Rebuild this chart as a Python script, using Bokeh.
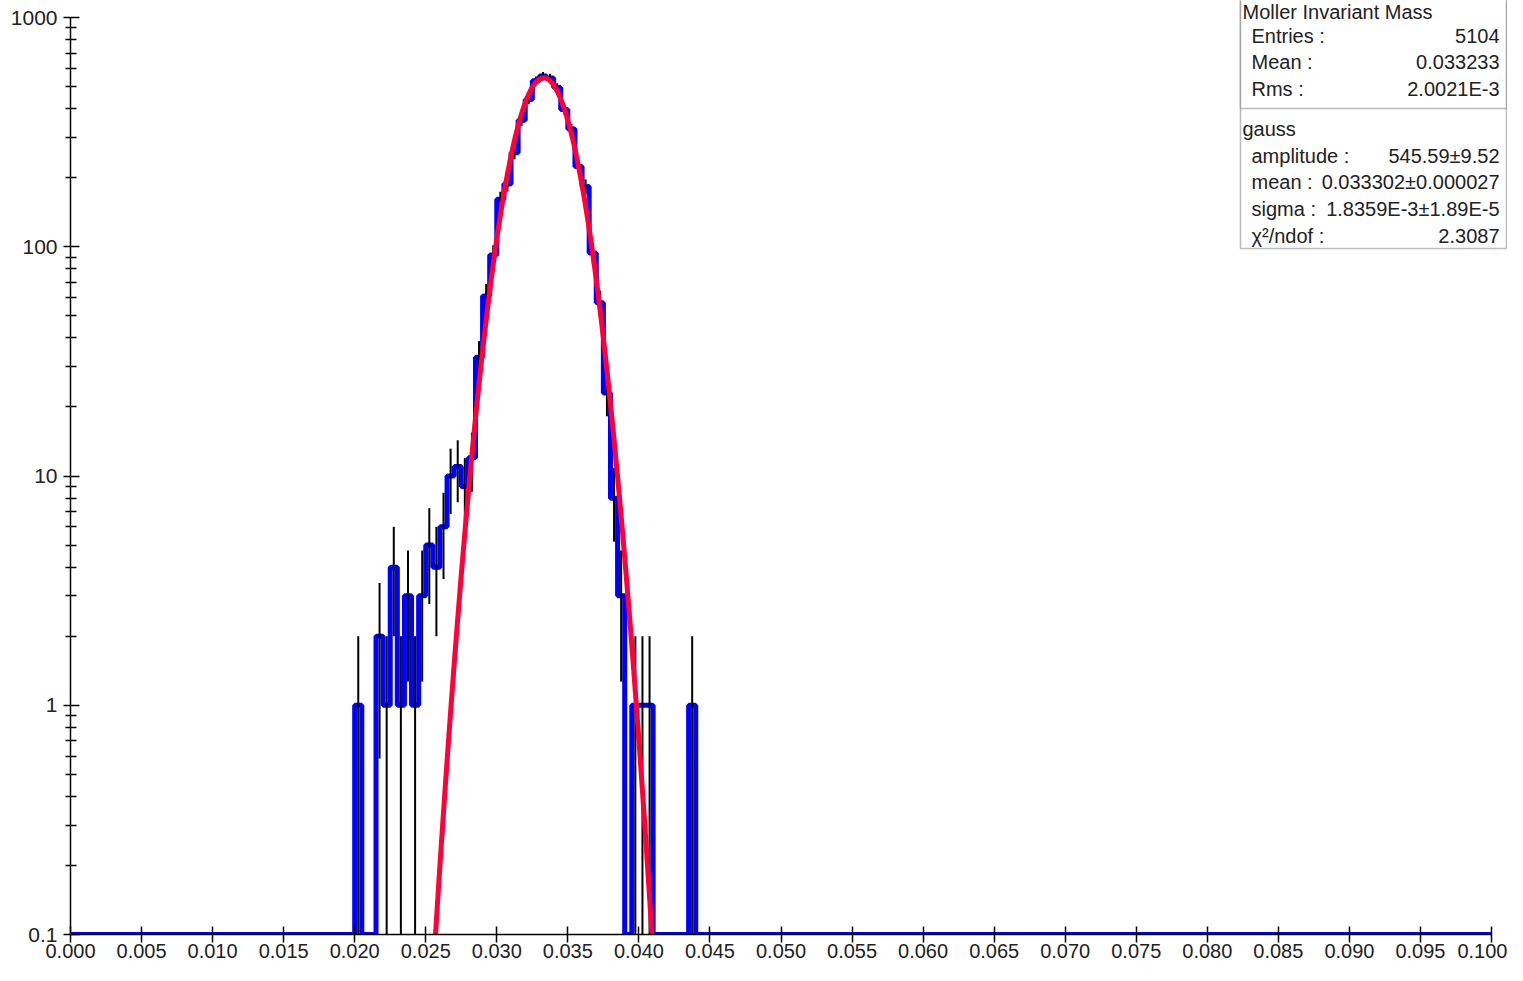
import numpy as np
from bokeh.plotting import figure
from bokeh.models import (Range1d, FixedTicker, PrintfTickFormatter, CustomJSTickFormatter,
                          Label, BoxAnnotation)
from bokeh.embed import file_html
from bokeh.resources import INLINE

# ---------------- data ----------------
hist_low = 0.0
hist_high = 0.1
bin_width = 0.0005
first_filled_bin = 40          # bin starting at x = 0.0200
counts = [1, 0, 0, 2, 1, 4, 1, 3, 1, 3, 5, 4, 6, 10, 11, 9, 12,
          33, 61, 92, 161, 188, 257, 356, 439, 530, 555, 545, 495, 397,
          326, 224, 183, 94, 57, 23, 8, 3,
          0, 1, 1, 1, 0, 0, 0, 0, 0, 1]

fit_amplitude = 545.59
fit_mean = 0.033302
fit_sigma = 1.8359e-3

x_ticks = [0.000, 0.005, 0.010, 0.015, 0.020, 0.025, 0.030, 0.035, 0.040, 0.045, 0.050,
           0.055, 0.060, 0.065, 0.070, 0.075, 0.080, 0.085, 0.090, 0.095, 0.100]
y_ticks = [0.1, 1, 10, 100, 1000]
y_minor_mantissas = [2, 3, 4, 5, 6, 7, 8, 9]

stats_title = "Moller Invariant Mass"
stats_names = ["Entries :", "Mean :", "Rms :"]
stats_values = ["5104", "0.033233", "2.0021E-3"]
fit_title = "gauss"
fit_names = ["amplitude :", "mean :", "sigma :", "χ²/ndof :"]
fit_values = ["545.59±9.52", "0.033302±0.000027", "1.8359E-3±1.89E-5", "2.3087"]

# ---------------- layout ----------------
W, H = 1507, 965
BORDER_L, BORDER_B = 70, 31
FRAME_W = W - BORDER_L
FRAME_H = H - BORDER_B
PX_PER_UNIT_X = 14210.0
TOP_PAD = 17
Y_START = y_ticks[0]
PX_PER_DECADE = (FRAME_H - TOP_PAD) / 4.0
x_end = FRAME_W / PX_PER_UNIT_X
y_end = Y_START * 10 ** (FRAME_H / PX_PER_DECADE)

FONT = "Liberation Sans"
FS = "20px"
AXFS = "20px"
TXT = "#222222"

# ---------------- build histogram arrays ----------------
n_bins = int(round((hist_high - hist_low) / bin_width))
full = [0] * n_bins
for i, c in enumerate(counts):
    full[first_filled_bin + i] = c
edges = [hist_low + i * bin_width for i in range(n_bins + 1)]
plot_vals = [c if c > 0 else Y_START for c in full]
step_y = plot_vals + [plot_vals[-1]]

centers = [hist_low + (i + 0.5) * bin_width for i in range(n_bins) if full[i] > 0]
vals = [full[i] for i in range(n_bins) if full[i] > 0]
err_lo = [v - np.sqrt(v) if v - np.sqrt(v) > Y_START else Y_START for v in vals]
err_hi = [v + np.sqrt(v) for v in vals]

xf = np.linspace(fit_mean - 4.6 * fit_sigma, fit_mean + 4.6 * fit_sigma, 600)
yf = fit_amplitude * np.exp(-0.5 * ((xf - fit_mean) / fit_sigma) ** 2)

# ---------------- figure ----------------
p = figure(width=W, height=H, x_range=Range1d(0, x_end), y_range=Range1d(Y_START, y_end),
           y_axis_type="log", output_backend="svg", toolbar_location=None,
           min_border_left=BORDER_L, min_border_right=0, min_border_top=0,
           min_border_bottom=BORDER_B)
p.outline_line_color = None
p.grid.visible = False
p.background_fill_color = "white"
p.border_fill_color = "white"

p.step(x=edges, y=step_y, mode="after", line_color="#0000ff", line_width=5)
p.segment(x0=centers, y0=err_lo, x1=centers, y1=err_hi, line_color="black", line_width=2)
p.line(xf, yf, line_color="#ff0038", line_width=5)

# axes
for ax in (p.xaxis[0], p.yaxis[0]):
    ax.axis_line_color = "black"
    ax.axis_line_width = 1.5
    ax.major_tick_line_color = "black"
    ax.major_tick_line_width = 1.5
    ax.minor_tick_line_color = "black"
    ax.minor_tick_line_width = 1.5
    ax.major_label_text_font = FONT
    ax.major_label_text_font_size = AXFS
    ax.major_label_text_color = TXT

xa = p.xaxis[0]
xa.bounds = (hist_low, hist_high)
xa.ticker = FixedTicker(ticks=x_ticks)
xa.formatter = PrintfTickFormatter(format="%.3f")
xa.major_tick_in = 8
xa.major_tick_out = 8
xa.minor_tick_line_color = None
xa.major_label_standoff = 1

ya = p.yaxis[0]
ya.bounds = (y_ticks[0], y_ticks[-1])
ya.ticker = FixedTicker(ticks=y_ticks,
                        minor_ticks=[m * t for t in y_ticks[:-1] for m in y_minor_mantissas])
ya.formatter = CustomJSTickFormatter(code="return tick >= 1 ? tick.toFixed(0) : tick.toFixed(1);")
ya.major_label_text_font_size = "21px"
ya.major_tick_in = 9
ya.major_tick_out = 7
ya.minor_tick_in = 6
ya.minor_tick_out = 5
ya.major_label_standoff = 6

# ---------------- statistics box ----------------
def fy(py):
    return FRAME_H - py

def fx(px):
    return px - BORDER_L

box_left, box_right = fx(1240), fx(1506)
p.add_layout(BoxAnnotation(left=box_left, right=box_right, top=fy(-20), bottom=fy(248),
                           left_units="screen", right_units="screen",
                           top_units="screen", bottom_units="screen",
                           fill_color="white", fill_alpha=1.0,
                           line_color="#222222", line_width=1.6))
p.add_layout(BoxAnnotation(left=box_left, right=box_right, top=fy(-20), bottom=fy(108),
                           left_units="screen", right_units="screen",
                           top_units="screen", bottom_units="screen",
                           fill_color="white", fill_alpha=1.0,
                           line_color="#222222", line_width=1.6))

def add_text(txt, px, py, align):
    p.add_layout(Label(x=fx(px), y=fy(py), x_units="screen", y_units="screen",
                       text=txt, text_align=align, text_baseline="middle",
                       text_font=FONT, text_font_size=FS, text_color=TXT))

VAL_X = 1499
add_text(stats_title, 1242, 11, "left")
row_y = [35, 61, 88]
for name, val, yy in zip(stats_names, stats_values, row_y):
    add_text(name, 1251, yy, "left")
    add_text(val, VAL_X, yy, "right")
add_text(fit_title, 1242, 128, "left")
fit_row_y = [155, 181, 208, 235]
for name, val, yy in zip(fit_names, fit_values, fit_row_y):
    add_text(name, 1251, yy, "left")
    add_text(val, VAL_X, yy, "right")

open("out.html", "w").write(file_html(p, INLINE))
